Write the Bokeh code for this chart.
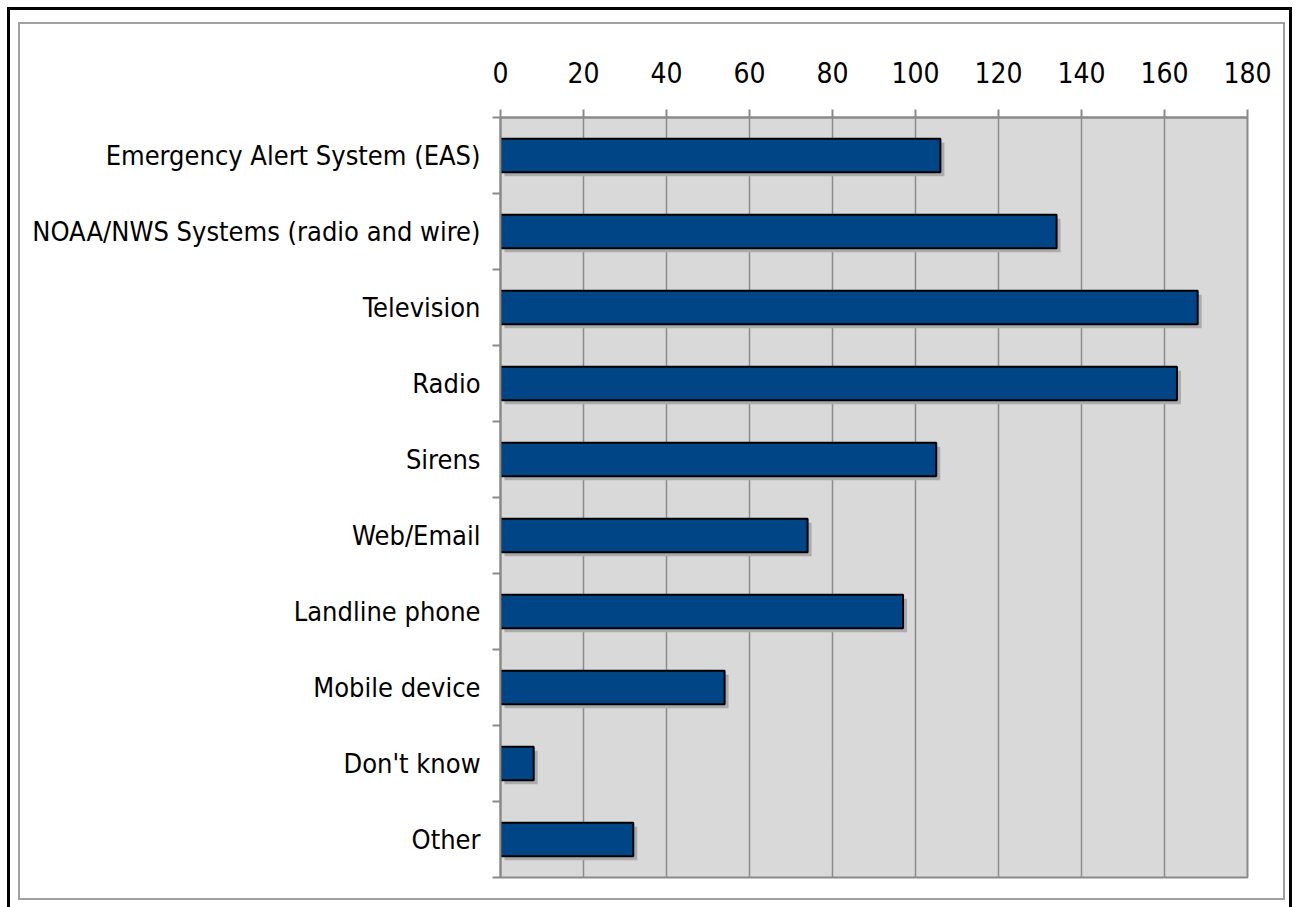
from bokeh.plotting import figure
from bokeh.layouts import column
from bokeh.models import FixedTicker, Range1d
from bokeh.embed import file_html
from bokeh.resources import INLINE

categories = [
    "Emergency Alert System (EAS)",
    "NOAA/NWS Systems (radio and wire)",
    "Television",
    "Radio",
    "Sirens",
    "Web/Email",
    "Landline phone",
    "Mobile device",
    "Don't know",
    "Other",
]
counts = [106, 134, 168, 163, 105, 74, 97, 54, 8, 32]
x_ticks = [0, 20, 40, 60, 80, 100, 120, 140, 160, 180]

FONT = "DejaVu Sans Condensed, Roboto"
FSIZE = "27px"
n = len(categories)
y_pos = [n - i - 0.5 for i in range(n)]
boundaries = list(range(n + 1))

p = figure(
    width=1267, height=878,
    x_range=Range1d(0, 180), y_range=Range1d(0, n),
    x_axis_location="above",
    output_backend="svg", toolbar_location=None,
    min_border_left=480, min_border_right=40,
    min_border_top=93, min_border_bottom=25,
    styles={"border": "2px solid #a0a0a0"},
)
p.background_fill_color = "#d9d9d9"
p.border_fill_color = "white"
p.outline_line_color = "#8a8a8a"
p.outline_line_width = 2

# shadow (offset ~4px right/down)
dx = 4 * 180 / 747
dy = 4 * n / 760
p.hbar(y=[y - dy for y in y_pos], left=dx, right=[c + dx for c in counts],
       height=0.44, fill_color="#ababab", line_color=None)
p.hbar(y=y_pos, left=0, right=counts, height=0.44,
       fill_color="#004586", line_color="black", line_width=2)

xa = p.xaxis[0]
xa.ticker = FixedTicker(ticks=x_ticks)
xa.major_tick_out = 8
xa.major_tick_in = 0
xa.minor_tick_out = 0
xa.minor_tick_in = 0
xa.major_tick_line_color = "#8a8a8a"
xa.major_tick_line_width = 2
xa.axis_line_color = "#8a8a8a"
xa.axis_line_width = 2
xa.major_label_text_font = FONT
xa.major_label_text_font_size = "28px"
xa.major_label_text_color = "black"
xa.major_label_standoff = 27

ya = p.yaxis[0]
ya.ticker = FixedTicker(ticks=y_pos, minor_ticks=boundaries)
ya.major_label_overrides = {y: c for y, c in zip(y_pos, categories)}
ya.major_tick_out = 0
ya.major_tick_in = 0
ya.minor_tick_out = 8
ya.minor_tick_in = 0
ya.minor_tick_line_color = "#8a8a8a"
ya.minor_tick_line_width = 2
ya.axis_line_color = "#8a8a8a"
ya.axis_line_width = 2
ya.major_label_text_font = FONT
ya.major_label_text_font_size = FSIZE
ya.major_label_text_color = "black"
ya.major_label_standoff = 12

p.xgrid.ticker = FixedTicker(ticks=x_ticks)
p.xgrid.grid_line_color = "#8c8c8c"
p.xgrid.grid_line_width = 1.5
p.ygrid.grid_line_color = None

layout = column(p, styles={
    "margin-left": "7px", "margin-top": "7px",
    "border": "3px solid black",
    "padding": "12px 4px 8px 8px",
    "background": "white",
})

open("out.html", "w").write(file_html(layout, INLINE))
